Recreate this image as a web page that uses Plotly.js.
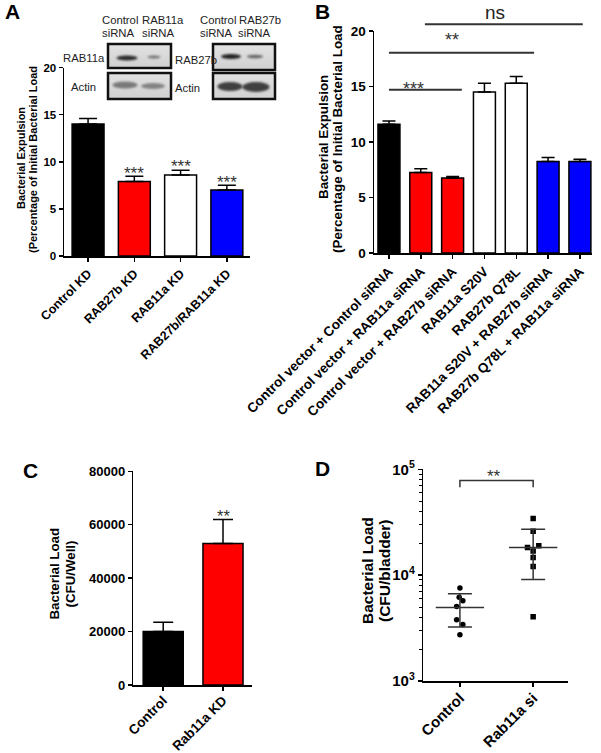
<!DOCTYPE html>
<html><head><meta charset="utf-8">
<script src="https://cdn.plot.ly/plotly-3.0.1.min.js"></script>
<style>body{margin:0;background:#fff;} #chart{width:601px;height:753px;}</style>
</head><body><div id="chart"></div>
<script>
// ---------- Panel A ----------
const aCategories = ['Control KD', 'RAB27b KD', 'RAB11a KD', 'RAB27b/RAB11a KD'];
const aValues = [14.0, 7.9, 8.6, 7.0];
const aErrors = [0.6, 0.55, 0.5, 0.5];
const aColors = ['#000000', '#ff0000', '#ffffff', '#0000ff'];
const aSig = ['', '***', '***', '***'];
const aYTicks = [0, 5, 10, 15, 20];

// ---------- Panel B ----------
const bCategories = ['Control vector + Control siRNA', 'Control vector + RAB11a siRNA',
  'Control vector + RAB27b siRNA', 'RAB11a S20V', 'RAB27b Q78L',
  'RAB11a S20V + RAB27b siRNA', 'RAB27b Q78L + RAB11a siRNA'];
const bValues = [11.6, 7.25, 6.75, 14.5, 15.3, 8.25, 8.25];
const bErrors = [0.3, 0.35, 0.15, 0.8, 0.6, 0.35, 0.2];
const bColors = ['#000000', '#ff0000', '#ff0000', '#ffffff', '#ffffff', '#0000ff', '#0000ff'];
const bYTicks = [0, 5, 10, 15, 20];
// comparison bars: start, end (category units), level, label, label position
const bCompStart = [0, 0, 1.13];
const bCompEnd = [2.29, 4.56, 6.09];
const bCompLevel = [14.7, 18.05, 20.6];
const bCompLabel = ['***', '**', 'ns'];
const bCompLabelX = [1.16, 2.26, 3.71];

// ---------- Panel C ----------
const cCategories = ['Control', 'Rab11a KD'];
const cValues = [20000, 53000];
const cErrors = [3500, 9000];
const cColors = ['#000000', '#ff0000'];
const cSig = ['', '**'];
const cYTicks = [0, 20000, 40000, 60000, 80000];

// ---------- Panel D ----------
const dCategories = ['Control', 'Rab11a si'];
const dControl = [7550, 6180, 5740, 5050, 3790, 3420, 2740];
const dControlJitter = [0, -0.01, 0.04, -0.045, -0.045, 0.04, 0];
const dRab = [34200, 26000, 18200, 19000, 16900, 14650, 12060, 4040];
const dRabJitter = [0, 0, -0.077, 0.077, 0, 0, 0, 0];
const dMean = [4940, 18200];
const dSdHigh = [6680, 27200];
const dSdLow = [3240, 9100];
const dBracket = [67800, 78200];
const dYTicks = [1000, 10000, 100000];
const dYTickText = ['10<sup>3</sup>', '10<sup>4</sup>', '10<sup>5</sup>'];

// ---------- layout helpers ----------
const W = 601, H = 753;
const FONT = "Arial, 'Liberation Sans', Helvetica, sans-serif";
const px2x = p => p / W;
const px2y = p => 1 - p / H;
const BOLD = s => ({family: FONT, size: s, weight: 'bold', color: '#000'});

const axBase = {
  showline: true, linecolor: '#000', linewidth: 1.5, showgrid: false, zeroline: false,
  ticks: 'outside', ticklen: 4, tickwidth: 1.5, tickcolor: '#000', fixedrange: true
};

const domA = {x: [64, 250], y: [67.5, 256], xr: [-0.52, 3.5], yr: [0, 20]};
const domB = {x: [374, 592], y: [31, 253], xr: [-0.47, 6.38], yr: [0, 20]};
const domC = {x: [133.3, 251.7], y: [471.3, 685], xr: [-0.5, 1.48], yr: [0, 80000]};
const domD = {x: [423.3, 568.3], y: [469.3, 681], xr: [-0.5, 1.48], yr: [3, 5]};

function xPaper(d, v) { return px2x(d.x[0] + (v - d.xr[0]) / (d.xr[1] - d.xr[0]) * (d.x[1] - d.x[0])); }
function yPaper(d, v) { return px2y(d.y[1] - (v - d.yr[0]) / (d.yr[1] - d.yr[0]) * (d.y[1] - d.y[0])); }

const traces = [];
const idx = arr => arr.map((_, i) => i);

// Panel A bars
traces.push({
  type: 'bar', x: idx(aCategories), y: aValues, width: 0.69, xaxis: 'x', yaxis: 'y',
  marker: {color: aColors, line: {color: '#000', width: 1.5}},
  error_y: {type: 'data', symmetric: false, array: aErrors, arrayminus: aErrors.map(() => 0),
    color: '#000', thickness: 1.5, width: 9}
});
// Panel B bars
traces.push({
  type: 'bar', x: idx(bCategories), y: bValues, width: 0.69, xaxis: 'x2', yaxis: 'y2',
  marker: {color: bColors, line: {color: '#000', width: 1.5}},
  error_y: {type: 'data', symmetric: false, array: bErrors, arrayminus: bErrors.map(() => 0),
    color: '#000', thickness: 1.5, width: 6.5}
});
// Panel C bars
traces.push({
  type: 'bar', x: idx(cCategories), y: cValues, width: 0.67, xaxis: 'x3', yaxis: 'y3',
  marker: {color: cColors, line: {color: '#000', width: 1.5}},
  error_y: {type: 'data', symmetric: false, array: cErrors, arrayminus: cErrors.map(() => 0),
    color: '#000', thickness: 1.5, width: 10}
});
// Panel D points
traces.push({
  type: 'scatter', mode: 'markers', xaxis: 'x4', yaxis: 'y4',
  x: dControlJitter.map(j => 0 + j), y: dControl,
  marker: {symbol: 'circle', size: 5.5, color: '#000'}
});
traces.push({
  type: 'scatter', mode: 'markers', xaxis: 'x4', yaxis: 'y4',
  x: dRabJitter.map(j => 1 + j), y: dRab,
  marker: {symbol: 'square', size: 5.5, color: '#000'}
});
// mean +/- SD
traces.push({
  type: 'scatter', mode: 'markers', xaxis: 'x4', yaxis: 'y4', x: [0, 1], y: dMean,
  marker: {size: 1, color: 'rgba(0,0,0,0)'},
  error_y: {type: 'data', symmetric: false,
    array: dSdHigh.map((v, i) => v - dMean[i]), arrayminus: dSdLow.map((v, i) => dMean[i] - v),
    color: '#333', thickness: 1.5, width: 12}
});
const MEAN_HALF = 0.33;
dMean.forEach((m, i) => traces.push({
  type: 'scatter', mode: 'lines', xaxis: 'x4', yaxis: 'y4',
  x: [i - MEAN_HALF, i + MEAN_HALF], y: [m, m], line: {color: '#333', width: 1.5}
}));
// bracket
traces.push({
  type: 'scatter', mode: 'lines', xaxis: 'x4', yaxis: 'y4',
  x: [0, 0, 1, 1], y: [dBracket[0], dBracket[1], dBracket[1], dBracket[0]],
  line: {color: '#333', width: 1.5}
});

const annotations = [];
const shapes = [];
function ann(text, px, py, opt) {
  annotations.push(Object.assign({text, x: px2x(px), y: px2y(py), xref: 'paper', yref: 'paper',
    showarrow: false, xanchor: 'center', yanchor: 'middle', font: {family: FONT, size: 12.5, color: '#222'}}, opt || {}));
}
// panel letters
[['A', 12, 12], ['B', 322, 12], ['C', 30, 470], ['D', 322, 468]].forEach(([t, x, y]) => ann(t, x, y, {font: BOLD(21)}));

// y titles
ann('Bacterial Expulsion', 21, 158, {textangle: -90, font: BOLD(11)});
ann('(Percentage of Initial Bacterial Load', 33, 160, {textangle: -90, font: BOLD(11)});
ann('Bacterial Expulsion', 323.5, 137.5, {textangle: -90, font: BOLD(13.4)});
ann('(Percentage of Initial Bacterial Load', 337, 139, {textangle: -90, font: BOLD(13.4)});
ann('Bacterial Load', 53.5, 574, {textangle: -90, font: BOLD(13.3)});
ann('(CFU/Well)', 69.5, 574, {textangle: -90, font: BOLD(13.3)});
ann('Bacterial Load', 367, 571, {textangle: -90, font: BOLD(15.5)});
ann('(CFU/bladder)', 384, 571, {textangle: -90, font: BOLD(15.5)});

// blot labels
const blotFont = {family: FONT, size: 11.3, color: '#222'};
ann('Control', 120, 20, {font: blotFont});
ann('siRNA', 117.5, 33, {font: blotFont});
ann('RAB11a', 163, 20, {font: blotFont});
ann('siRNA', 158, 33, {font: blotFont});
ann('Control', 218, 20, {font: blotFont});
ann('siRNA', 216, 33, {font: blotFont});
ann('RAB27b', 260, 20, {font: blotFont});
ann('siRNA', 254, 33, {font: blotFont});
ann('RAB11a', 107, 58, {font: blotFont, xanchor: 'right'});
ann('Actin', 84, 87, {font: blotFont});
ann('RAB27b', 173, 60, {font: blotFont, xanchor: 'left'});
ann('Actin', 173, 87.5, {font: blotFont, xanchor: 'left'});

// significance stars A and C
const starFont = s => ({family: FONT, size: s, color: '#333'});
aSig.forEach((s, i) => { if (s) annotations.push({text: s, xref: 'x', yref: 'y', x: i, y: aValues[i] + aErrors[i],
  showarrow: false, yanchor: 'middle', yshift: 3.3, font: starFont(17)}); });
cSig.forEach((s, i) => { if (s) annotations.push({text: s, xref: 'x3', yref: 'y3', x: i, y: cValues[i] + cErrors[i],
  showarrow: false, yanchor: 'middle', yshift: 3.6, font: starFont(16.5)}); });
// D bracket label
annotations.push({text: '**', xref: 'x4', yref: 'y4', x: 0.46, y: Math.log10(dBracket[1]), showarrow: false,
  yanchor: 'middle', yshift: 4, font: starFont(17)});
// B comparisons
const bShift = [1, 12.6, 11.7];
bCompLevel.forEach((lv, i) => {
  shapes.push({type: 'line', xref: 'paper', yref: 'paper',
    x0: xPaper(domB, bCompStart[i]), x1: xPaper(domB, bCompEnd[i]),
    y0: yPaper(domB, lv), y1: yPaper(domB, lv), line: {color: '#333', width: 2}});
  const isNs = bCompLabel[i] === 'ns';
  annotations.push({text: bCompLabel[i], xref: 'paper', yref: 'paper', x: xPaper(domB, bCompLabelX[i]),
    y: yPaper(domB, lv), showarrow: false, yanchor: 'middle', yshift: bShift[i],
    font: isNs ? {family: FONT, size: 19, color: '#222'} : starFont(18)});
});

// western blot images
function makeBlots() {
  const c = document.createElement('canvas'); c.width = W; c.height = H;
  const ctx = c.getContext('2d');
  const boxes = [[108, 44, 63, 24], [108, 73, 63, 26], [213, 44, 62, 26], [213, 73, 62, 26]];
  boxes.forEach(([x, y, w, h]) => {
    const g = ctx.createLinearGradient(x, y, x, y + h);
    g.addColorStop(0, '#e2e2e2'); g.addColorStop(1, '#d0d0d0');
    ctx.fillStyle = g; ctx.fillRect(x, y, w, h);
  });
  const bands = [
    [127, 58, 21, 5, 0.9], [154, 57, 13, 3, 0.55],
    [125, 85, 25, 7, 0.5], [153, 86, 24, 6, 0.45],
    [231, 56.5, 20, 5, 0.95], [255, 56.5, 16, 3.5, 0.6],
    [230, 86.5, 25, 9, 0.8], [256, 87, 27, 10, 0.8]
  ];
  bands.forEach(([cx, cy, w, h, a]) => {
    ctx.save(); ctx.filter = 'blur(1.2px)'; ctx.fillStyle = 'rgba(25,25,25,' + a + ')';
    ctx.beginPath(); ctx.ellipse(cx, cy, w / 2, h / 2, 0, 0, 2 * Math.PI); ctx.fill(); ctx.restore();
  });
  ctx.lineWidth = 2.5; ctx.strokeStyle = '#111';
  boxes.forEach(([x, y, w, h]) => ctx.strokeRect(x, y, w, h));
  return c.toDataURL('image/png');
}

const layout = {
  width: W, height: H, margin: {l: 0, r: 0, t: 0, b: 0, pad: 0},
  paper_bgcolor: '#fff', plot_bgcolor: 'rgba(0,0,0,0)', showlegend: false,
  font: {family: FONT, color: '#000'},
  bargap: 0.3,
  xaxis: Object.assign({}, axBase, {domain: [px2x(domA.x[0]), px2x(domA.x[1])], range: domA.xr, anchor: 'y',
    tickvals: idx(aCategories), ticktext: aCategories, tickangle: -45, tickfont: BOLD(12.5)}),
  yaxis: Object.assign({}, axBase, {domain: [px2y(domA.y[1]), px2y(domA.y[0])], range: domA.yr, anchor: 'x',
    tickvals: aYTicks, tickfont: BOLD(11.5)}),
  xaxis2: Object.assign({}, axBase, {domain: [px2x(domB.x[0]), px2x(domB.x[1])], range: domB.xr, anchor: 'y2',
    tickvals: idx(bCategories), ticktext: bCategories, tickangle: -45, tickfont: BOLD(13.5)}),
  yaxis2: Object.assign({}, axBase, {domain: [px2y(domB.y[1]), px2y(domB.y[0])], range: domB.yr, anchor: 'x2',
    tickvals: bYTicks, tickfont: BOLD(13.5)}),
  xaxis3: Object.assign({}, axBase, {domain: [px2x(domC.x[0]), px2x(domC.x[1])], range: domC.xr, anchor: 'y3',
    tickvals: idx(cCategories), ticktext: cCategories, tickangle: -45, tickfont: BOLD(13.5), ticklabelstandoff: -3}),
  yaxis3: Object.assign({}, axBase, {domain: [px2y(domC.y[1]), px2y(domC.y[0])], range: domC.yr, anchor: 'x3',
    tickvals: cYTicks, tickformat: 'd', tickfont: BOLD(13)}),
  xaxis4: Object.assign({}, axBase, {domain: [px2x(domD.x[0]), px2x(domD.x[1])], range: domD.xr, anchor: 'y4',
    tickvals: [0, 1], ticktext: dCategories, tickangle: -45, tickfont: BOLD(15), ticklabelstandoff: -3}),
  yaxis4: Object.assign({}, axBase, {domain: [px2y(domD.y[1]), px2y(domD.y[0])], range: domD.yr, anchor: 'x4',
    type: 'log', tickvals: dYTicks, ticktext: dYTickText, tickfont: BOLD(15),
    minor: {ticks: 'outside', ticklen: 2.5, tickwidth: 1, tickcolor: '#000',
      tickvals: [2000, 3000, 4000, 5000, 6000, 7000, 8000, 9000, 20000, 30000, 40000, 50000, 60000, 70000, 80000, 90000]}}),
  annotations, shapes,
  images: [{source: makeBlots(), xref: 'paper', yref: 'paper', x: 0, y: 1, sizex: 1, sizey: 1,
    xanchor: 'left', yanchor: 'top', sizing: 'stretch', layer: 'above'}]
};

Plotly.newPlot('chart', traces, layout, {displayModeBar: false, staticPlot: true});
</script></body></html>
